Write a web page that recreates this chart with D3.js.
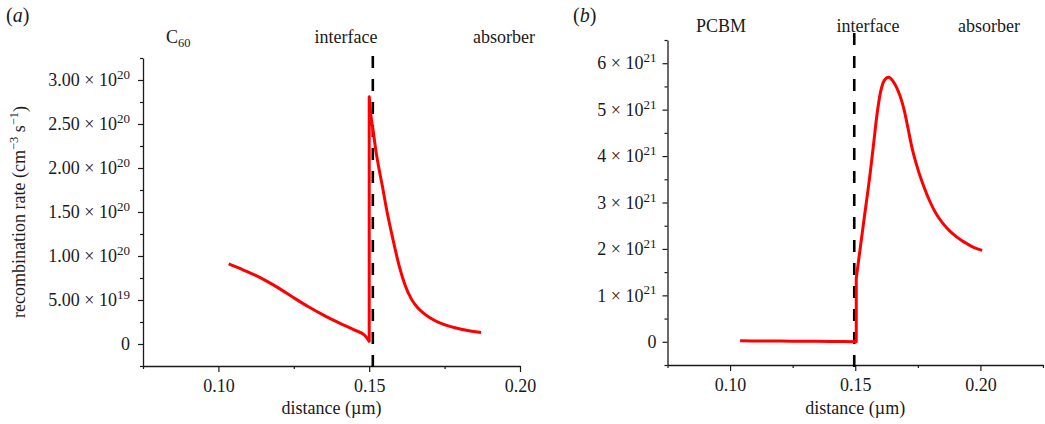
<!DOCTYPE html>
<html><head><meta charset="utf-8">
<script src="https://cdn.jsdelivr.net/npm/d3@7"></script>
<style>
body{margin:0;background:#fff}
svg{display:block}
text{font-family:"Liberation Serif","Times New Roman",serif;fill:#1a1a1a}
</style>
</head><body>
<svg id="c" width="1045" height="424"></svg>
<script>
// ---------- data ----------
// Panel (a): C60 / absorber
const distA = [0.1034,0.108,0.112,0.116,0.120,0.125,0.130,0.135,0.140,0.145,0.1485,0.1500,
               0.1500,0.1505,0.1514,0.1522,0.1532,0.1545,0.1556,0.158,0.160,0.162,0.164,0.166,0.168,0.170,0.173,0.177,0.181,0.184,0.1871];
const rateA = [0.91e20,0.845e20,0.785e20,0.715e20,0.635e20,0.525e20,0.42e20,0.325e20,0.24e20,0.16e20,0.10e20,0.03e20,
               2.81e20,2.62e20,2.40e20,2.20e20,2.00e20,1.77e20,1.56e20,1.17e20,0.88e20,0.66e20,0.51e20,0.415e20,0.35e20,0.30e20,0.245e20,0.197e20,0.165e20,0.145e20,0.13e20];
// Panel (b): PCBM / absorber
const distB = [0.104,0.115,0.125,0.135,0.145,0.1504,
               0.1504,0.1533,0.1560,0.1573,0.1587,0.1600,0.1615,0.1633,0.1650,0.1665,0.168,0.1695,0.171,0.1725,0.175,0.1775,0.180,0.1825,0.185,0.1875,0.190,0.1925,0.195,0.1975,0.2007];
const rateB = [0.02e21,0.017e21,0.013e21,0.009e21,0.005e21,0.003e21,
               1.37e21,2.55e21,3.65e21,4.25e21,4.90e21,5.35e21,5.62e21,5.70e21,5.62e21,5.48e21,5.28e21,5.00e21,4.62e21,4.22e21,3.72e21,3.33e21,3.00e21,2.74e21,2.55e21,2.40e21,2.28e21,2.18e21,2.10e21,2.03e21,1.97e21];
const interfaceA = 0.1512;
const interfaceB = 0.1496;

const xTickValues = [0.10,0.15,0.20];
const xTickLabels = ["0.10","0.15","0.20"];
const xMinorA = [0.075,0.125,0.175];
const xMinorB = [0.075,0.125,0.175,0.225];

const yTickValuesA = [0,5e19,1e20,1.5e20,2e20,2.5e20,3e20];
const yTickMantA = ["0","5.00","1.00","1.50","2.00","2.50","3.00"];
const yTickExpA  = ["","19","20","20","20","20","20"];
const yMinorA = [-0.25e20,0.25e20,0.75e20,1.25e20,1.75e20,2.25e20,2.75e20,3.25e20];

const yTickValuesB = [0,1e21,2e21,3e21,4e21,5e21,6e21];
const yTickMantB = ["0","1","2","3","4","5","6"];
const yTickExpB  = ["","21","21","21","21","21","21"];
const yMinorB = [-0.5e21,0.5e21,1.5e21,2.5e21,3.5e21,4.5e21,5.5e21,6.5e21];

const xTitle = "distance (µm)";
const panelTags = ["a","b"];
// ---------- drawing ----------
const svg = d3.select("#c");

function drawPanel(o){
  const g = svg.append("g");
  const x = d3.scaleLinear().domain(o.xDomain).range([o.left,o.right]);
  const y = d3.scaleLinear().domain(o.yDomain).range([o.bottom,o.top]);

  const xa = g.append("g").attr("transform",`translate(0,${o.bottom})`)
    .call(d3.axisBottom(x).tickValues(xTickValues).tickFormat((d,i)=>xTickLabels[i])
      .tickSizeInner(6).tickSizeOuter(0).tickPadding(7));
  g.append("g").attr("transform",`translate(0,${o.bottom})`)
    .call(d3.axisBottom(x).tickValues(o.xMinor).tickFormat("").tickSizeInner(3).tickSizeOuter(0))
    .select(".domain").remove();
  const ya = g.append("g").attr("transform",`translate(${o.left},0)`)
    .call(d3.axisLeft(y).tickValues(o.yTicks).tickFormat("").tickSizeInner(5).tickSizeOuter(0).tickPadding(o.yPad));
  g.append("g").attr("transform",`translate(${o.left},0)`)
    .call(d3.axisLeft(y).tickValues(o.yMinor).tickFormat("").tickSizeInner(3).tickSizeOuter(0))
    .select(".domain").remove();

  g.selectAll(".domain").attr("stroke","#1a1a1a").attr("stroke-width",1.3);
  g.selectAll(".tick line").attr("stroke","#1a1a1a").attr("stroke-width",1.2);
  xa.selectAll("text").attr("font-size",18).attr("font-family","Liberation Serif, serif").attr("fill","#1a1a1a");

  ya.selectAll(".tick text").each(function(d,i){
    const t = d3.select(this).attr("font-size",18).attr("font-family","Liberation Serif, serif").attr("fill","#1a1a1a");
    t.text(null);
    if(o.yExp[i]===""){
      t.append("tspan").text(o.yMant[i]);
    } else {
      t.append("tspan").text(o.yMant[i] + " \u00d7 10");
      t.append("tspan").attr("font-size",13).attr("dy","-0.55em").text(o.yExp[i]);
    }
  });

  g.append("text").attr("x",(o.left+o.right)/2).attr("y",414).attr("text-anchor","middle")
    .attr("font-size",18).text(xTitle);

  g.append("line").attr("x1",x(o.iface)).attr("x2",x(o.iface))
    .attr("y1",o.dashTop).attr("y2",o.dashBottom)
    .attr("stroke","#000").attr("stroke-width",2.6).attr("stroke-dasharray","12,11");

  // curve: smooth segments joined by vertical jumps (repeated x)
  const pts = o.xs.map((v,i)=>[v,o.ys[i]]);
  const segs = [[]];
  pts.forEach((p,i)=>{
    if(i>0 && p[0]===pts[i-1][0]) segs.push([]);
    segs[segs.length-1].push(p);
  });
  const line = d3.line().x(d=>x(d[0])).y(d=>y(d[1])).curve(d3.curveMonotoneX);
  const dStr = segs.map((s,k)=>{ const ds = line(s); return k===0 ? ds : ds.replace(/^M/,"L"); }).join("");
  g.append("path").attr("d",dStr).attr("fill","none")
    .attr("stroke","#ff0000").attr("stroke-width",3).attr("stroke-linejoin","round");

  const tag = g.append("text").attr("x",o.tagX).attr("y",22).attr("font-size",20);
  tag.append("tspan").text("(");
  tag.append("tspan").attr("font-style","italic").text(o.tag);
  tag.append("tspan").text(")");
  return g;
}

const gA = drawPanel({xDomain:[0.075,0.20], yDomain:[-0.25e20,3.25e20], left:143, right:520, top:58, bottom:366,
  xMinor:xMinorA, yTicks:yTickValuesA, yMinor:yMinorA, yMant:yTickMantA, yExp:yTickExpA, yPad:8,
  iface:interfaceA, dashTop:56, dashBottom:372, xs:distA, ys:rateA, tag:panelTags[0], tagX:6});
const gB = drawPanel({xDomain:[0.075,0.225], yDomain:[-0.5e21,6.5e21], left:667.5, right:1043, top:40, bottom:365,
  xMinor:xMinorB, yTicks:yTickValuesB, yMinor:yMinorB, yMant:yTickMantB, yExp:yTickExpB, yPad:6,
  iface:interfaceB, dashTop:33, dashBottom:368, xs:distB, ys:rateB, tag:panelTags[1], tagX:573});

const yt = svg.append("text").attr("transform","translate(25,212) rotate(-90)").attr("text-anchor","middle").attr("font-size",18);
yt.append("tspan").text("recombination rate (cm");
yt.append("tspan").attr("font-size",12.5).attr("dy","-0.55em").text("\u22123");
yt.append("tspan").attr("dy","0.4em").text(" s");
yt.append("tspan").attr("font-size",12.5).attr("dy","-0.55em").text("\u22121");
yt.append("tspan").attr("dy","0.4em").text(")");

const c60 = gA.append("text").attr("x",166).attr("y",43).attr("font-size",18);
c60.append("tspan").text("C");
c60.append("tspan").attr("font-size",12.5).attr("dy","0.3em").text("60");
gA.append("text").attr("x",346).attr("y",43).attr("text-anchor","middle").attr("font-size",18).text("interface");
gA.append("text").attr("x",504).attr("y",43).attr("text-anchor","middle").attr("font-size",18).text("absorber");
gB.append("text").attr("x",721).attr("y",31.5).attr("text-anchor","middle").attr("font-size",18).text("PCBM");
gB.append("text").attr("x",868).attr("y",31.5).attr("text-anchor","middle").attr("font-size",18).text("interface");
gB.append("text").attr("x",989).attr("y",31.5).attr("text-anchor","middle").attr("font-size",18).text("absorber");
</script>
</body></html>
